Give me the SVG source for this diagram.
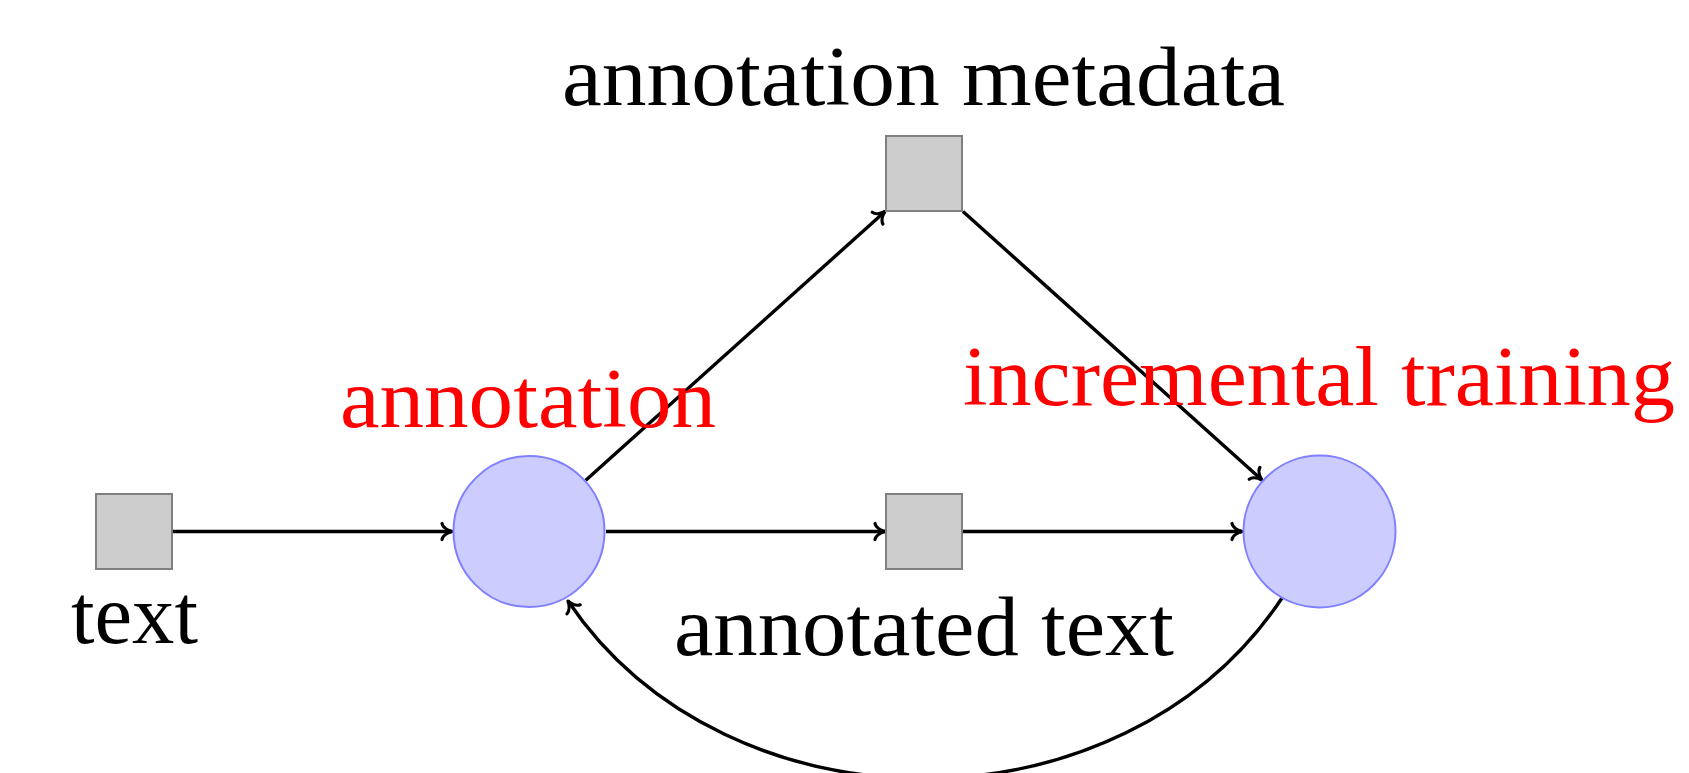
<svg xmlns="http://www.w3.org/2000/svg" width="1689" height="773" viewBox="0 0 1689 773">
  <style>
    .data { fill: #cccccc; stroke: #808080; stroke-width: 2; }
    .proc { fill: #ccccff; stroke: #8080ff; stroke-width: 2; }
    .lbl { font-family: "Liberation Serif", "Times New Roman", serif; font-size: 84px; fill: #000; text-anchor: middle; }
    .red { fill: #ff0000; }
    .edge { fill: none; stroke: #000; stroke-width: 3.4; marker-end: url(#to); }
  </style>
  <defs>
    <marker id="to" markerUnits="userSpaceOnUse" markerWidth="30" markerHeight="30" viewBox="-15 -15 30 30" refX="0" refY="0" orient="auto" overflow="visible">
      <path d="M-10,-8 C-9,-3.5 -3,-0.8 0,0 C-3,0.8 -9,3.5 -10,8" fill="none" stroke="#000" stroke-width="3.2" stroke-linecap="round" stroke-linejoin="round"/>
    </marker>
  </defs>

  <g id="connectors">
    <path class="edge" d="M172,531.5 L452,531.5"/>
    <path class="edge" d="M606,531.5 L885,531.5"/>
    <path class="edge" d="M963,531.5 L1242,531.5"/>
    <path class="edge" d="M585.5,480.5 L885,211.5"/>
    <path class="edge" d="M963,211.5 L1262,480"/>
    <path class="edge" d="M1282,598 C1122,838 728,838 568,601"/>
  </g>

  <g id="node-text">
    <rect class="data" x="96" y="494" width="76" height="75"/>
    <text class="lbl" x="134.5" y="643" textLength="127" lengthAdjust="spacingAndGlyphs">text</text>
  </g>

  <g id="node-annotation">
    <circle class="proc" cx="529" cy="531.5" r="75.5"/>
    <text class="lbl red" x="528" y="427" textLength="376" lengthAdjust="spacingAndGlyphs">annotation</text>
  </g>

  <g id="node-metadata">
    <rect class="data" x="886" y="136" width="76" height="75"/>
    <text class="lbl" x="923.5" y="105" textLength="723" lengthAdjust="spacingAndGlyphs">annotation metadata</text>
  </g>

  <g id="node-annotated-text">
    <rect class="data" x="886" y="494" width="76" height="75"/>
    <text class="lbl" x="924" y="655" textLength="500" lengthAdjust="spacingAndGlyphs">annotated text</text>
  </g>

  <g id="node-training">
    <circle class="proc" cx="1319.5" cy="531.5" r="76"/>
    <text class="lbl red" x="1319" y="405" textLength="712" lengthAdjust="spacingAndGlyphs">incremental training</text>
  </g>
</svg>
